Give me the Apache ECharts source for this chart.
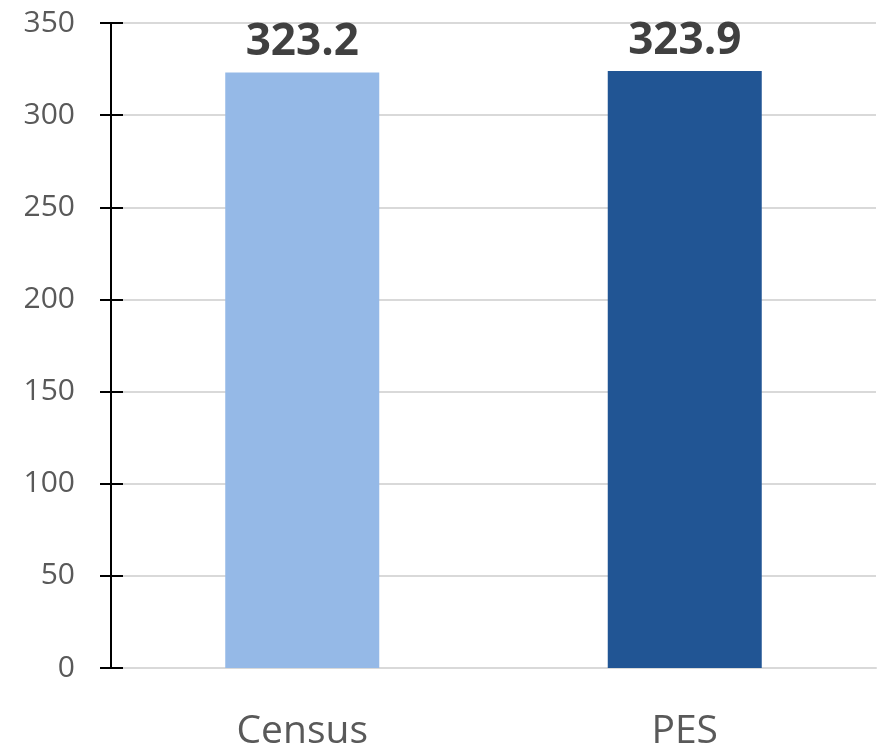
<!DOCTYPE html>
<html>
<head>
<meta charset="utf-8">
<script src="https://cdn.jsdelivr.net/npm/echarts@6/dist/echarts.min.js"></script>
<style>
  html, body { margin: 0; padding: 0; background: #fff; }
  #main { width: 879px; height: 751px; }
</style>
</head>
<body>
<div id="main"></div>
<script>
(function () {
    // 数据
    let categories = ['Census', 'PES']
    let values = [323.2, 323.9]
    let barColors = ['#95B9E7', '#215594']
    let yMin = 0, yMax = 350, yStep = 50

    let myChart = echarts.init(document.getElementById('main'))
    let font = '"Open Sans", "Noto Sans", sans-serif'

    let option = {
        animation: false,
        grid: { left: 111, right: 3, top: 23, bottom: 81, containLabel: false },
        xAxis: {
            type: 'category',
            data: categories,
            axisTick: { show: false },
            axisLine: { lineStyle: { color: '#d9d9d9', width: 2 } },
            axisLabel: { color: '#595959', fontSize: 39, fontFamily: font, margin: 44 }
        },
        yAxis: [
            {
                type: 'value',
                min: yMin, max: yMax, interval: yStep,
                axisLine: { show: true, lineStyle: { color: '#000', width: 2 } },
                axisTick: { show: true, length: 11, lineStyle: { color: '#000', width: 2 } },
                axisLabel: { color: '#595959', fontSize: 30, fontFamily: font, margin: 36 },
                splitLine: { lineStyle: { color: '#d9d9d9', width: 2 } }
            },
            {
                // 向内的刻度，模拟穿过轴线的刻度
                type: 'value',
                position: 'left',
                min: yMin, max: yMax, interval: yStep,
                axisLine: { show: false },
                axisTick: { show: true, inside: true, length: 12, lineStyle: { color: '#000', width: 2 } },
                axisLabel: { show: false },
                splitLine: { show: false }
            }
        ],
        series: [
            {
                type: 'bar',
                barWidth: 154,
                data: values.map(function (v, i) {
                    return { value: v, itemStyle: { color: barColors[i] } }
                }),
                label: {
                    show: true,
                    position: 'top',
                    distance: 8,
                    color: '#404040',
                    fontSize: 44,
                    fontWeight: 'bold',
                    fontFamily: font,
                    formatter: function (p) { return p.value.toFixed(1) }
                }
            }
        ]
    }
    myChart.setOption(option)
})();
</script>
</body>
</html>
